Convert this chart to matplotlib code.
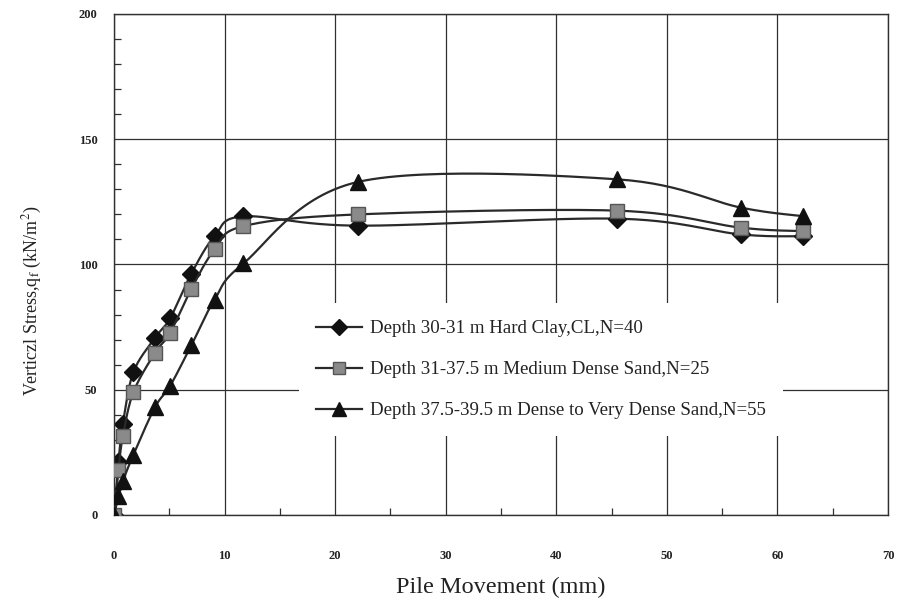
import numpy as np
import matplotlib
matplotlib.use("Agg")
import matplotlib.pyplot as plt
from matplotlib.ticker import MultipleLocator

# pile movement (mm) at each load step
movement = [0.0, 0.4, 0.8, 1.75, 3.7, 5.07, 7.0, 9.1, 11.7, 22.1, 45.5, 56.7, 62.3]

# vertical stress q_f (kN/m^2) for each soil layer
clay_stress = [0.0, 21.0, 36.5, 57.0, 70.7, 78.5, 96.4, 111.3, 119.2, 115.5, 118.3, 112.0, 111.3]
med_sand_stress = [0.0, 18.0, 31.5, 49.0, 64.7, 72.7, 90.3, 106.0, 115.3, 120.0, 121.5, 114.7, 113.3]
dense_sand_stress = [0.0, 7.5, 13.5, 24.0, 43.0, 51.5, 67.8, 86.0, 100.4, 133.0, 134.0, 122.7, 119.3]

series_labels = [
    "Depth 30-31 m Hard Clay,CL,N=40",
    "Depth 31-37.5 m Medium Dense Sand,N=25",
    "Depth 37.5-39.5 m Dense to Very Dense Sand,N=55",
]


def smooth_curve(x, y, n=30):
    """Spreadsheet-style smoothed line: cubic Bezier segments with
    Catmull-Rom control points through every data point."""
    pts = np.column_stack([x, y]).astype(float)
    ext = np.vstack([pts[0], pts, pts[-1]])
    t = np.linspace(0, 1, n)[:, None]
    out = []
    for i in range(len(pts) - 1):
        p0, p3 = ext[i + 1], ext[i + 2]
        c1 = p0 + (ext[i + 2] - ext[i]) / 6.0
        c2 = p3 - (ext[i + 3] - ext[i + 1]) / 6.0
        seg = ((1 - t) ** 3) * p0 + 3 * ((1 - t) ** 2) * t * c1 \
            + 3 * (1 - t) * t ** 2 * c2 + t ** 3 * p3
        out.append(seg if i == 0 else seg[1:])
    out = np.vstack(out)
    return out[:, 0], out[:, 1]


plt.rcParams["font.family"] = ["Liberation Serif", "DejaVu Serif"]
plt.rcParams["mathtext.fontset"] = "stix"

fig = plt.figure(figsize=(8.97, 5.98), dpi=100)
ax = fig.add_axes([0.1271, 0.1388, 0.8629, 0.8378])

line_kw = dict(color="#2a2a2a", lw=1.6)
styles = [
    dict(marker="D", ms=9, mfc="#111111", mec="#111111"),
    dict(marker="s", ms=10, mfc="#8a8a8a", mec="#555555", mew=1.0),
    dict(marker="^", ms=11, mfc="#111111", mec="#111111"),
]

handles = []
for i, (ys, st) in enumerate(zip([clay_stress, med_sand_stress, dense_sand_stress], styles)):
    sx, sy = smooth_curve(movement, ys)
    ax.plot(sx, sy, zorder=2 + i, **line_kw)
    ax.plot(movement, ys, ls="none", zorder=2 + i, **st)
    h, = ax.plot([], [], label=series_labels[i], **line_kw, **st)
    handles.append(h)

ax.set_xlim(0, 70)
ax.set_ylim(0, 200)
ax.xaxis.set_major_locator(MultipleLocator(10))
ax.xaxis.set_minor_locator(MultipleLocator(5))
ax.yaxis.set_major_locator(MultipleLocator(50))
ax.yaxis.set_minor_locator(MultipleLocator(10))
ax.grid(True, which="major", color="#303030", lw=0.9)
ax.set_axisbelow(True)

ax.tick_params(which="both", direction="in", top=False, right=False)
ax.tick_params(which="major", length=0)
ax.tick_params(which="minor", length=5, width=0.9, color="#303030")
ax.tick_params(axis="x", which="major", pad=25, labelsize=9)
ax.tick_params(axis="y", which="major", pad=12, labelsize=9)
for lab in ax.get_xticklabels() + ax.get_yticklabels():
    lab.set_fontweight("bold")
    lab.set_color("#222222")
for sp in ax.spines.values():
    sp.set_color("#303030")
    sp.set_linewidth(1.0)

ax.set_xlabel("Pile Movement (mm)", fontsize=17.5, labelpad=11, color="#222222")
ax.set_ylabel(r"Verticzl Stress,q$_{\rm f}$ (kN/m$^{2}$)", fontsize=13,
              color="#222222")
ax.yaxis.set_label_coords(-0.09, 0.427)

# white legend box hides the grid lines behind the labels
leg = ax.legend(handles=handles, loc="upper left", bbox_to_anchor=(0.2274, 0.4416),
                fontsize=13.6, frameon=True, facecolor="white", edgecolor="none",
                framealpha=1.0, fancybox=False, borderpad=0.9,
                handlelength=2.4, handletextpad=0.45, labelspacing=1.26,
                markerscale=0.9)
leg.set_zorder(1.5)
for t in leg.get_texts():
    t.set_color("#222222")

fig.savefig("out.png", dpi=100)
